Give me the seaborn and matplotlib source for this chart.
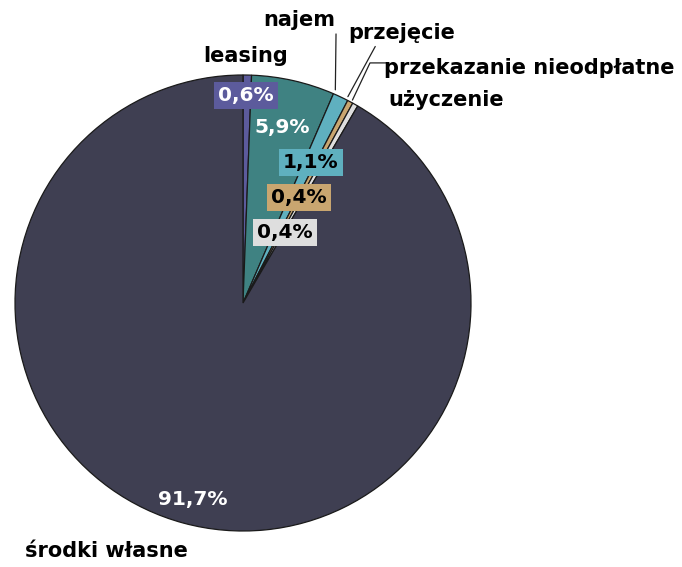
import matplotlib
matplotlib.use("Agg")
import matplotlib.pyplot as plt
import seaborn as sns

sns.set_theme(style="white")
plt.rcParams['font.family'] = ['DejaVu Sans']

# data (clockwise from 12 o'clock)
categories = ["leasing", "najem", "przejęcie", "przekazanie nieodpłatne", "użyczenie", "środki własne"]
shares = [0.6, 5.9, 1.1, 0.4, 0.4, 91.7]
colors = ["#5c5b9c", "#3f8282", "#5fb0bf", "#c9a670", "#dedede", "#3f3f52"]

# label styling per slice
pct_text_colors = ["white", "white", "black", "black", "black", "white"]
pct_box = [True, False, True, True, True, False]
# label positions (data coords, pie radius = 1)
pct_pos = [(0.013, 0.91), (0.171, 0.768), (0.298, 0.618), (0.246, 0.461), (0.184, 0.311), (-0.219, -0.864)]
name_pos = [(-0.175, 1.083), (0.088, 1.241), (0.461, 1.184), (0.618, 1.031), (0.636, 0.89), (-0.956, -1.088)]
# leader lines: (text end, slice end)
leaders = {1: [(0.408, 1.18), (0.405, 0.935)],
           2: [(0.58, 1.125), (0.46, 0.905)],
           3: [(0.632, 1.053), (0.557, 1.053), (0.48, 0.89)]}

fig = plt.figure(figsize=(6.82, 5.67), dpi=100)
ax = fig.add_axes([15 / 682, 36 / 567, 456 / 682, 456 / 567])

wedges, _ = ax.pie(shares, colors=colors, startangle=90, counterclock=False,
                   radius=1, wedgeprops=dict(edgecolor="#1a1a1a", linewidth=0.9))
ax.set_xlim(-1, 1)
ax.set_ylim(-1, 1)
ax.set_aspect("equal")
ax.axis("off")

for i, v in enumerate(shares):
    txt = f"{v:.1f}".replace(".", ",") + "%"
    bbox = None
    if pct_box[i]:
        bbox = dict(boxstyle="square,pad=0.2", fc=colors[i], ec="none")
    ax.text(*pct_pos[i], txt, ha="center", va="center", fontsize=14.5,
            fontweight="bold", color=pct_text_colors[i], bbox=bbox, zorder=5)

for i, name in enumerate(categories):
    ax.text(*name_pos[i], name, ha="left", va="center", fontsize=15,
            fontweight="bold", color="black", clip_on=False)

for i, pts in leaders.items():
    xs = [p[0] for p in pts]
    ys = [p[1] for p in pts]
    ax.plot(xs, ys, color="#222222", linewidth=0.9, clip_on=False)

fig.savefig("out.png", dpi=100)
